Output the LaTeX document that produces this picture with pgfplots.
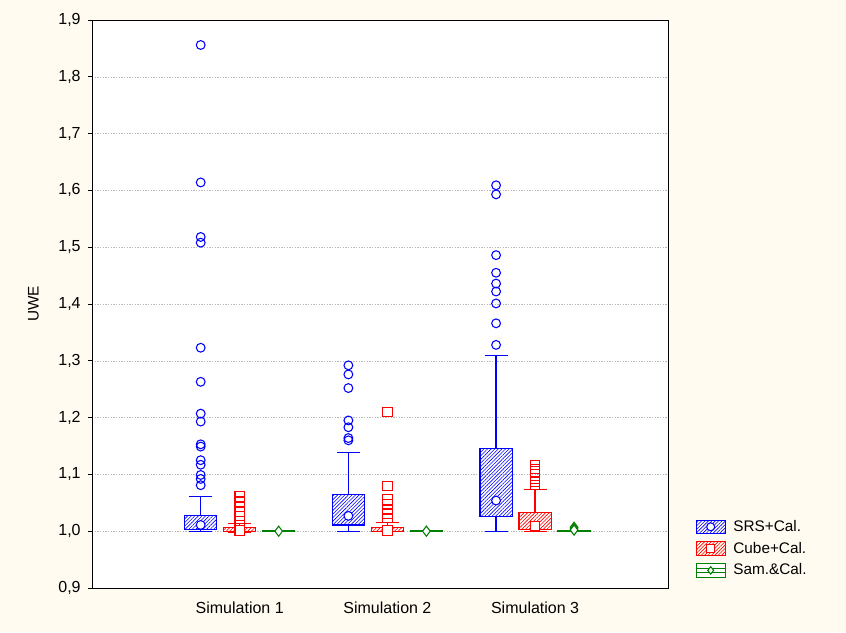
\documentclass[border=0pt]{standalone}
\usepackage{pgfplots}
\pgfplotsset{compat=1.18}
\usepgfplotslibrary{statistics}
\usetikzlibrary{patterns,patterns.meta}
\usepackage{fontspec}
\setmainfont{Liberation Sans}
\definecolor{cream}{RGB}{255,251,240}
\definecolor{sgreen}{RGB}{0,128,0}
\pgfplotsset{
  srs/.style={blue, line width=0.9pt, mark=o, mark size=3.3pt,
    mark options={solid, line width=0.8pt},
    boxplot/every box/.style={draw=blue, pattern={Lines[angle=45,distance=1.9pt,line width=0.45pt]}, pattern color=blue},
    boxplot/every median/.style={draw=none}},
  cube/.style={red, line width=0.9pt, mark=square, mark size=3.5pt,
    mark options={solid, line width=0.8pt},
    boxplot/every box/.style={draw=red, pattern={Lines[angle=45,distance=1.9pt,line width=0.45pt]}, pattern color=red},
    boxplot/every median/.style={draw=none}},
  sam/.style={sgreen, line width=0.9pt, mark=diamond, mark size=3.8pt,
    mark options={solid, line width=0.8pt},
    boxplot/every box/.style={draw=sgreen},
    boxplot/every median/.style={draw=none}},
}
\begin{document}
\begin{tikzpicture}
\fill[cream] (-69pt,-33pt) rectangle (565.5pt,441pt);
\begin{axis}[
  at={(0pt,0pt)}, anchor=south west,
  scale only axis, width=432pt, height=426pt,
  xmin=0, xmax=3.9, ymin=0.9, ymax=1.9,
  axis background/.style={fill=white},
  axis line style={black, line width=0.6pt},
  boxplot/draw direction=y,
  xtick={1,2,3}, xticklabels={Simulation 1,Simulation 2,Simulation 3},
  ytick={0.9,1,1.1,1.2,1.3,1.4,1.5,1.6,1.7,1.8,1.9},
  /pgf/number format/assume math mode=true,
  /pgf/number format/use comma,
  /pgf/number format/fixed,
  /pgf/number format/fixed zerofill,
  /pgf/number format/precision=1,
  ymajorgrids,
  grid style={gray!55, dash pattern=on 1pt off 1pt, line width=0.4pt},
  tick align=outside, major tick length=3pt,
  xtick style={draw=none},
  ytick pos=left,
  tick style={black, line width=0.5pt},
  tick label style={font=\fontsize{12}{14}\selectfont},
  yticklabel style={xshift=-2pt},
  xticklabel style={yshift=-4pt},
  every axis y label/.style={at={(axis description cs:0,0.5)}, xshift=-44pt, rotate=90, anchor=center, font=\fontsize{11.5}{13}\selectfont},
  ylabel={UWE},
  legend style={at={(1.045,0.012)}, anchor=south west, draw=none, fill=none,
    font=\fontsize{11.5}{13}\selectfont, row sep=2.5pt, inner sep=1pt},
  legend cell align=left,
]
% ---------- legend images ----------
\addlegendimage{legend image code/.code={
  \path[draw=none, fill=none] (0pt,-5pt) rectangle (26pt,5pt);
  \draw[blue, line width=0.8pt, pattern={Lines[angle=45,distance=1.8pt,line width=0.45pt]}, pattern color=blue] (0pt,-5pt) rectangle (22pt,5pt);
  \draw[blue, line width=0.8pt, fill=white] (11pt,0pt) circle (3pt);}}
\addlegendentry{SRS+Cal.}
\addlegendimage{legend image code/.code={
  \path[draw=none, fill=none] (0pt,-5pt) rectangle (26pt,5pt);
  \draw[red, line width=0.8pt, pattern={Lines[angle=45,distance=1.8pt,line width=0.45pt]}, pattern color=red] (0pt,-5pt) rectangle (22pt,5pt);
  \draw[red, line width=0.8pt, fill=white] (8pt,-3pt) rectangle (14pt,3pt);}}
\addlegendentry{Cube+Cal.}
\addlegendimage{legend image code/.code={
  \path[draw=none, fill=none] (0pt,-5pt) rectangle (26pt,5pt);
  \draw[sgreen, line width=0.8pt, fill=white] (0pt,-5pt) rectangle (22pt,5pt);
  \draw[sgreen, line width=0.6pt] (0pt,-1.7pt) -- (22pt,-1.7pt) (0pt,1.7pt) -- (22pt,1.7pt);
  \draw[sgreen, line width=0.8pt, fill=white] (11pt,-2.8pt) -- (13.2pt,0pt) -- (11pt,2.8pt) -- (8.8pt,0pt) -- cycle;}}
\addlegendentry{Sam.\&Cal.}
% ---------- Simulation 1 ----------
\addplot[srs, forget plot, boxplot prepared={draw position=0.736, box extend=0.217, whisker extend=0.156,
  lower whisker=1.0, lower quartile=1.003, median=1.011, upper quartile=1.028, upper whisker=1.061}]
  table[row sep=\\, y index=0]{v\\ 1.856\\ 1.614\\ 1.518\\ 1.508\\ 1.323\\ 1.263\\ 1.207\\ 1.193\\ 1.153\\ 1.149\\ 1.125\\ 1.117\\ 1.099\\ 1.092\\ 1.081\\};
\addplot[cube, forget plot, boxplot prepared={draw position=1.0, box extend=0.217, whisker extend=0.156,
  lower whisker=0.998, lower quartile=0.999, median=1.001, upper quartile=1.006, upper whisker=1.013}]
  table[row sep=\\, y index=0]{v\\ 1.061\\ 1.052\\ 1.043\\ 1.034\\ 1.027\\ 1.018\\};
\addplot[sam, forget plot, boxplot prepared={draw position=1.264, box extend=0.217, whisker extend=0.156,
  lower whisker=0.9995, lower quartile=0.9998, median=1.0, upper quartile=1.0002, upper whisker=1.0005}]
  coordinates {};
% ---------- Simulation 2 ----------
\addplot[srs, forget plot, boxplot prepared={draw position=1.736, box extend=0.217, whisker extend=0.156,
  lower whisker=1.0, lower quartile=1.011, median=1.027, upper quartile=1.064, upper whisker=1.138}]
  table[row sep=\\, y index=0]{v\\ 1.292\\ 1.276\\ 1.252\\ 1.195\\ 1.183\\ 1.164\\ 1.160\\};
\addplot[cube, forget plot, boxplot prepared={draw position=2.0, box extend=0.217, whisker extend=0.156,
  lower whisker=0.999, lower quartile=0.9995, median=1.001, upper quartile=1.007, upper whisker=1.015}]
  table[row sep=\\, y index=0]{v\\ 1.210\\ 1.080\\ 1.056\\ 1.048\\ 1.037\\ 1.030\\ 1.023\\};
\addplot[sam, forget plot, boxplot prepared={draw position=2.264, box extend=0.217, whisker extend=0.156,
  lower whisker=0.9995, lower quartile=0.9998, median=1.0, upper quartile=1.0002, upper whisker=1.0005}]
  coordinates {};
% ---------- Simulation 3 ----------
\addplot[srs, forget plot, boxplot prepared={draw position=2.736, box extend=0.217, whisker extend=0.156,
  lower whisker=1.0, lower quartile=1.026, median=1.054, upper quartile=1.146, upper whisker=1.310}]
  table[row sep=\\, y index=0]{v\\ 1.609\\ 1.593\\ 1.486\\ 1.455\\ 1.436\\ 1.422\\ 1.401\\ 1.366\\ 1.328\\};
\addplot[cube, forget plot, boxplot prepared={draw position=3.0, box extend=0.217, whisker extend=0.156,
  lower whisker=0.999, lower quartile=1.003, median=1.009, upper quartile=1.033, upper whisker=1.074}]
  table[row sep=\\, y index=0]{v\\ 1.117\\ 1.110\\ 1.105\\ 1.093\\ 1.087\\ 1.081\\};
\addplot[sam, forget plot, boxplot prepared={draw position=3.264, box extend=0.217, whisker extend=0.156,
  lower whisker=0.999, lower quartile=0.9995, median=1.001, upper quartile=1.0005, upper whisker=1.001}]
  table[row sep=\\, y index=0]{v\\ 1.004\\ 1.007\\};
% ---------- medians ----------
\addplot[forget plot, only marks, mark=*, mark size=3.3pt, mark options={draw=blue, fill=white, line width=0.8pt}]
  coordinates {(0.736,1.011) (1.736,1.027) (2.736,1.054)};
\addplot[forget plot, only marks, mark=square*, mark size=3.5pt, mark options={draw=red, fill=white, line width=0.8pt}]
  coordinates {(1.0,1.001) (2.0,1.001) (3.0,1.009)};
\addplot[forget plot, only marks, mark=diamond*, mark size=3.8pt, mark options={draw=sgreen, fill=white, line width=0.8pt}]
  coordinates {(1.264,1.0) (2.264,1.0) (3.264,1.002)};
\end{axis}
\end{tikzpicture}
\end{document}
